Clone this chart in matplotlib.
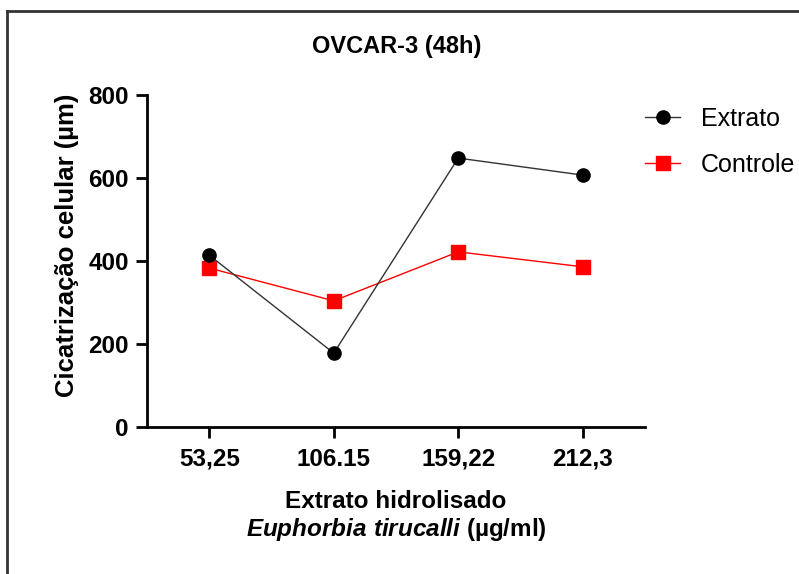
import matplotlib
matplotlib.use("Agg")
import matplotlib.pyplot as plt
from matplotlib.lines import Line2D

plt.rcParams['font.family'] = ['Liberation Sans', 'DejaVu Sans']
plt.rcParams['mathtext.fontset'] = 'custom'
plt.rcParams['mathtext.it'] = 'Liberation Sans:italic:bold'
plt.rcParams['mathtext.rm'] = 'Liberation Sans:bold'

categories = ["53,25", "106.15", "159,22", "212,3"]
extrato = [414, 178, 648, 607]
controle = [383, 304, 422, 386]
yticks = [0, 200, 400, 600, 800]

W, H = 799, 574
fig = plt.figure(figsize=(W/100, H/100), dpi=100)
ax = fig.add_axes([147/W, 1-427/H, (645-147)/W, (427-95)/H])

x = list(range(len(categories)))
ax.plot(x, extrato, color='#333333', lw=1.0, marker='o', ms=9.5,
        mfc='black', mec='black', label='Extrato', zorder=3)
ax.plot(x, controle, color='#ff0000', lw=1.0, marker='s', ms=9.5,
        mfc='#ff0000', mec='#ff0000', label='Controle', zorder=2)

ax.set_xlim(-0.5, 3.5)
ax.set_ylim(0, 800)
ax.set_yticks(yticks)
ax.set_xticks(x)
ax.set_xticklabels(categories)
for s in ['top', 'right']:
    ax.spines[s].set_visible(False)
for s in ['left', 'bottom']:
    ax.spines[s].set_linewidth(2)
    ax.spines[s].set_color('black')
ax.tick_params(axis='both', direction='out', length=8, width=2, labelsize=17.5)
ax.tick_params(axis='x', pad=7)
ax.tick_params(axis='y', pad=5)
for lab in ax.get_xticklabels() + ax.get_yticklabels():
    lab.set_fontweight('bold')

ax.set_ylabel("Cicatrização celular (µm)", fontsize=18.5, fontweight='bold')
ax.yaxis.set_label_coords((79-147)/498, (427-245)/332)
ax.set_xlabel("Extrato hidrolisado\n" + r"$\mathit{Euphorbia\ tirucalli}$ (µg/ml)",
              fontsize=17.5, fontweight='bold', linespacing=1.15)
ax.xaxis.set_label_coords(0.5, (427-490)/332)

fig.text(397/W, 1-47/H, "OVCAR-3 (48h)", fontsize=17, fontweight='bold',
         ha='center', va='center')

leg = ax.legend(loc='upper left', bbox_to_anchor=(645/W, 1-107/H),
                bbox_transform=fig.transFigure, frameon=False,
                borderpad=0, borderaxespad=0,
                fontsize=18, handlelength=1.4, labelspacing=0.87, handletextpad=0.85)

# outer frame (partially visible)
fig.add_artist(Line2D([7/W, 1.0], [1-11/H, 1-11/H], transform=fig.transFigure,
                      color='#333333', lw=2))
fig.add_artist(Line2D([7/W, 7/W], [1-11/H, 0.0], transform=fig.transFigure,
                      color='#333333', lw=2))

fig.savefig("out.png", dpi=100)
